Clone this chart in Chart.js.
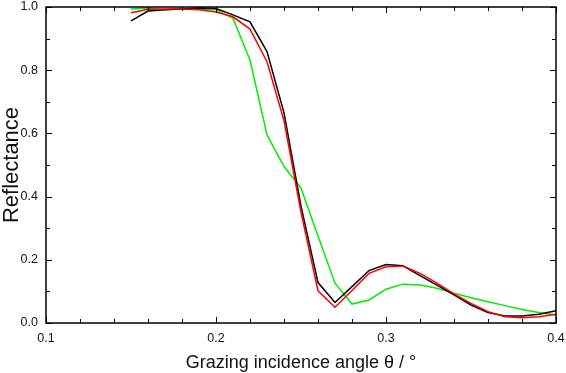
<!DOCTYPE html>
<html>
<head>
<meta charset="utf-8">
<script src="https://cdn.jsdelivr.net/npm/chart.js@4/dist/chart.umd.min.js"></script>
<style>
  html, body { margin: 0; padding: 0; background: #fff; }
  #wrap { width: 566px; height: 373px; position: relative; }
</style>
</head>
<body>
<div id="wrap"><canvas id="c" width="566" height="373"></canvas></div>
<script>
const angles = [0.15,0.16,0.17,0.18,0.19,0.20,0.21,0.22,0.23,0.24,0.25,0.26,0.27,0.28,0.29,0.30,0.31,0.32,0.33,0.34,0.35,0.36,0.37,0.38,0.39,0.40];
const blackSeries = [0.956,0.987,0.991,0.994,0.997,0.995,0.975,0.953,0.859,0.665,0.37,0.128,0.065,0.115,0.166,0.185,0.181,0.15,0.12,0.089,0.057,0.033,0.022,0.022,0.028,0.039];
const redSeries = [0.982,0.993,0.994,0.994,0.991,0.984,0.969,0.93,0.827,0.64,0.35,0.102,0.05,0.103,0.157,0.178,0.18,0.157,0.126,0.092,0.062,0.036,0.02,0.017,0.02,0.028];
const greenSeries = [0.994,0.997,0.991,0.996,0.994,0.991,0.964,0.832,0.595,0.495,0.427,0.275,0.126,0.06,0.073,0.107,0.123,0.12,0.11,0.094,0.08,0.067,0.055,0.043,0.033,0.025];
const xTickLabels = ['0.1','0.2','0.3','0.4'];
const yTickLabels = ['0.0','0.2','0.4','0.6','0.8','1.0'];
const xTitle = 'Grazing incidence angle \u03b8 / \u00b0';
const yTitle = 'Reflectance';

function pts(ys) { return angles.map((a, i) => ({ x: a, y: ys[i] })); }

const framePlugin = {
  id: 'frame',
  afterDraw(chart) {
    const ctx = chart.ctx;
    const a = chart.chartArea;
    const xs = chart.scales.x, ys = chart.scales.y;
    ctx.save();
    ctx.strokeStyle = '#000';
    ctx.lineWidth = 1.5;
    ctx.strokeRect(a.left, a.top, a.right - a.left, a.bottom - a.top);
    ctx.lineWidth = 1;
    ctx.beginPath();
    for (let k = 0; k <= 15; k++) {
      const v = 0.1 + k * 0.02;
      const px = Math.round(xs.getPixelForValue(v)) + 0.5;
      const len = (k % 5 === 0) ? 6 : 4;
      ctx.moveTo(px, a.bottom); ctx.lineTo(px, a.bottom - len);
      ctx.moveTo(px, a.top); ctx.lineTo(px, a.top + len);
    }
    for (let k = 0; k <= 10; k++) {
      const v = k * 0.1;
      const py = Math.round(ys.getPixelForValue(v)) + 0.5;
      const len = (k % 2 === 0) ? 6 : 4;
      ctx.moveTo(a.left, py); ctx.lineTo(a.left + len, py);
      ctx.moveTo(a.right, py); ctx.lineTo(a.right - len, py);
    }
    ctx.stroke();
    ctx.restore();
  }
};

const lineDs = (data, color) => ({
  data: pts(data), borderColor: color, backgroundColor: color,
  borderWidth: 1.5, pointRadius: 0, tension: 0, fill: false, clip: 4
});

function zeroPad(s) { s.paddingTop = 0; s.paddingBottom = 0; s.paddingLeft = 0; s.paddingRight = 0; }

new Chart(document.getElementById('c'), {
  type: 'line',
  data: {
    datasets: [
      lineDs(redSeries, '#ff0000'),
      lineDs(blackSeries, '#000000'),
      lineDs(greenSeries, '#00ee00')
    ]
  },
  options: {
    responsive: false,
    animation: false,
    devicePixelRatio: 1,
    layout: { padding: { top: 7, right: 10, left: 0, bottom: 0 } },
    plugins: { legend: { display: false }, tooltip: { enabled: false } },
    scales: {
      x: {
        type: 'linear', min: 0.1, max: 0.4,
        afterBuildTicks(s) { s.ticks = xTickLabels.map(t => ({ value: parseFloat(t) })); },
        afterFit(s) { s.height = 50; zeroPad(s); },
        grid: { display: false, drawTicks: false },
        border: { display: false },
        ticks: {
          padding: 8, color: '#111', maxRotation: 0, autoSkip: false,
          font: { family: 'Liberation Sans', size: 12.5 },
          callback(v) { const i = xTickLabels.findIndex(t => Math.abs(parseFloat(t) - v) < 1e-6); return i >= 0 ? xTickLabels[i] : ''; }
        },
        title: { display: true, text: xTitle, color: '#111', font: { family: 'Liberation Sans', size: 18, lineHeight: 1.1 }, padding: { top: 0, bottom: 0 } }
      },
      y: {
        type: 'linear', min: 0, max: 1,
        afterBuildTicks(s) { s.ticks = yTickLabels.map(t => ({ value: parseFloat(t) })); },
        afterFit(s) { s.width = 46; zeroPad(s); },
        grid: { display: false, drawTicks: false },
        border: { display: false },
        ticks: {
          padding: 8, color: '#111', autoSkip: false,
          font: { family: 'Liberation Sans', size: 12.5 },
          callback(v) { const i = yTickLabels.findIndex(t => Math.abs(parseFloat(t) - v) < 1e-6); return i >= 0 ? yTickLabels[i] : ''; }
        },
        title: { display: true, text: yTitle, color: '#111', font: { family: 'Liberation Sans', size: 22, lineHeight: 1.0 }, padding: { top: 1, bottom: 0 } }
      }
    }
  },
  plugins: [framePlugin]
});
</script>
</body>
</html>
